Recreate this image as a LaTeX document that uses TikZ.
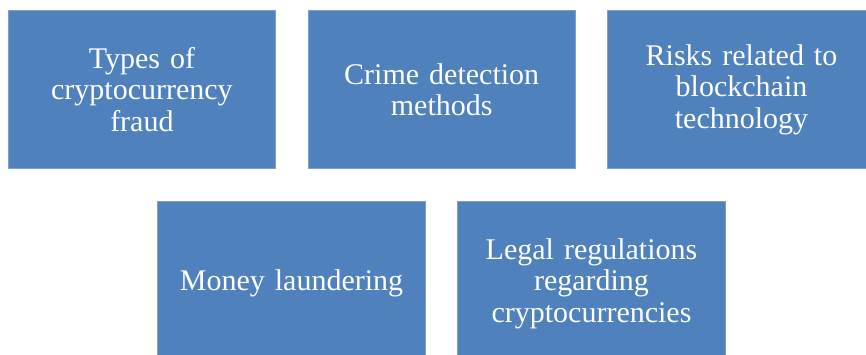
\documentclass[tikz,border=0pt]{standalone}
\usepackage{fontspec}
\setmainfont{Liberation Serif}
\definecolor{boxblue}{HTML}{4F81BD}
\definecolor{boxedge}{HTML}{7F9FCF}
\begin{document}
\begin{tikzpicture}[x=1pt,y=-1pt,
  topic/.style={fill=boxblue,draw=boxedge,line width=0.6pt,text=white,
    minimum width=267.5pt,inner sep=0pt,text width=255pt,align=center,
    font=\fontsize{30}{31.5}\selectfont}]
\useasboundingbox (0,0) rectangle (866,354);
\begin{scope}
\clip (0,0) rectangle (866,354);
\node[topic,minimum height=158pt] (a) at (141.9,89.5) {Types of\\cryptocurrency\\fraud};
\node[topic,minimum height=158pt] (b) at (441.7,89.5) {Crime detection\\methods};
\node[topic,minimum height=158pt] (c) at (741.5,89.5) {Risks related to\\blockchain\\technology};
\node[topic,minimum height=164pt] (d) at (291.5,283.5) {Money laundering};
\node[topic,minimum height=164pt] (e) at (591.5,283.5) {Legal regulations\\regarding\\cryptocurrencies};
\end{scope}
\end{tikzpicture}
\end{document}
